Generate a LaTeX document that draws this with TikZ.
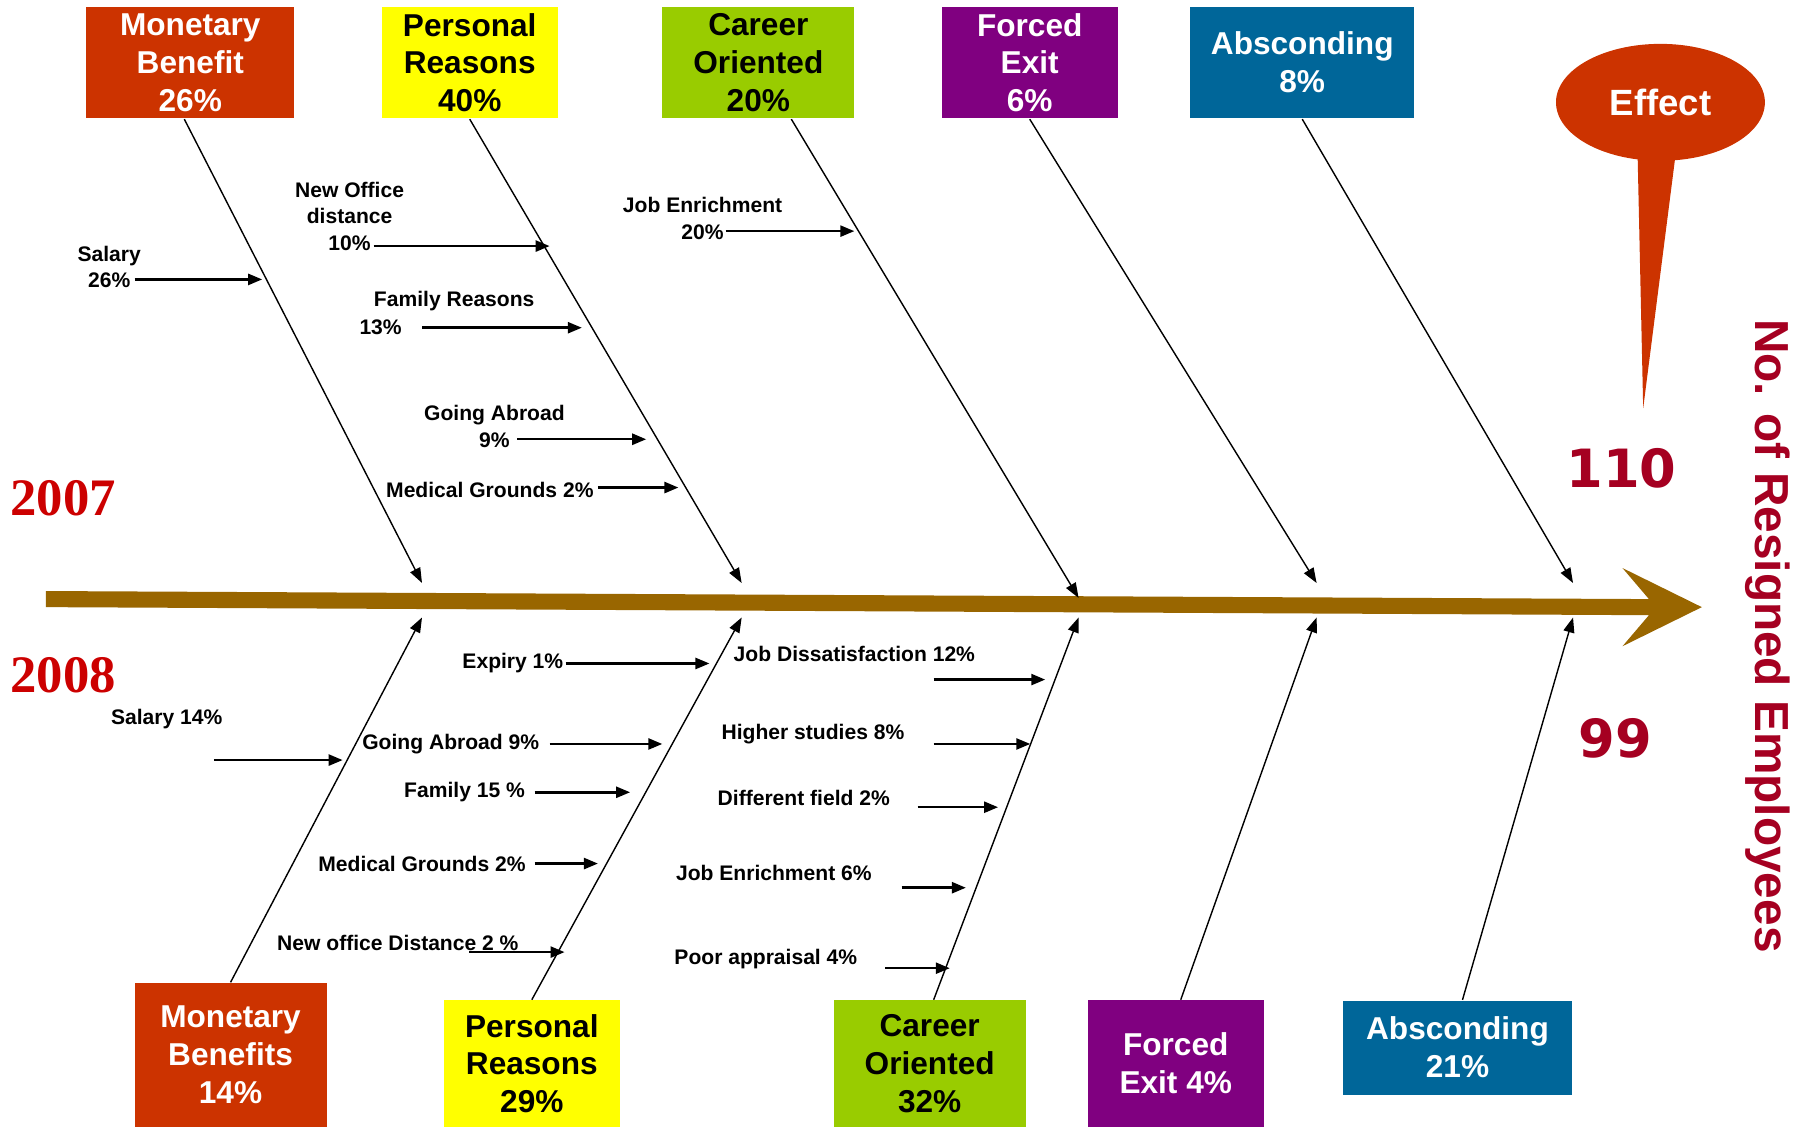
\documentclass[tikz,border=0pt]{standalone}
\usepackage{fontspec}
\setmainfont{Liberation Sans}
\newfontfamily\yearfont{Liberation Serif}
\newfontfamily\countfont{DejaVu Sans}
\usetikzlibrary{arrows.meta,shapes.geometric}

\definecolor{mbred}{HTML}{CC3300}
\definecolor{pryellow}{HTML}{FFFF00}
\definecolor{cogreen}{HTML}{99CC00}
\definecolor{fepurple}{HTML}{800080}
\definecolor{abblue}{HTML}{006699}
\definecolor{spinebrown}{HTML}{996600}
\definecolor{numred}{HTML}{A50021}
\definecolor{yearred}{HTML}{CC0000}

\tikzset{
  causebox/.style={inner sep=0pt, align=center, font=\fontsize{9}{10.8}\selectfont\bfseries},
  topbox/.style={causebox, minimum height=1.116cm},
  botbox/.style={causebox, minimum height=1.265cm},
  bone/.style={-{Triangle[length=1.5mm,width=1.1mm]}, line width=0.4pt},
  sub/.style={-{Triangle[length=1.4mm,width=1.1mm]}, line width=0.7pt},
  lbl/.style={inner sep=0pt, align=center, font=\fontsize{6}{7.5}\selectfont\bfseries},
  year/.style={text=yearred, font=\yearfont\fontsize{15}{15}\selectfont\bfseries},
  count/.style={text=numred, font=\countfont\fontsize{15}{17}\selectfont\bfseries},
}

\begin{document}
\begin{tikzpicture}[x=0.0115cm, y=-0.0115cm]
        \useasboundingbox (0,0) rectangle (1568,980);
        % spine
        \fill[spinebrown] (40,514) -- (1434,521) -- (1411,494) -- (1480,528) -- (1411,562) -- (1434,535) -- (40,528) -- cycle;
        % effect balloon
        \fill[mbred] (1424,128) -- (1429,355) -- (1458,128) -- cycle;
        \node[ellipse, fill=mbred, minimum width=2.09cm, minimum height=1.17cm, inner sep=0pt, text=white, font=\fontsize{10.4}{12}\selectfont\bfseries] (EF) at (1444,89) {Effect};
        % 2007 causes
        \node[topbox, fill=mbred, text=white, minimum width=2.08cm] (MB1) at (165.5,54.5) {Monetary\\Benefit\\26\%};
        \node[topbox, fill=pryellow, minimum width=1.76cm] (PR1) at (408.5,54.5) {Personal\\Reasons\\40\%};
        \node[topbox, fill=cogreen, minimum width=1.92cm] (CO1) at (659.5,54.5) {Career\\Oriented\\20\%};
        \node[topbox, fill=fepurple, text=white, minimum width=1.76cm] (FE1) at (895.5,54.5) {Forced\\Exit\\6\%};
        \node[topbox, fill=abblue, text=white, minimum width=2.24cm] (AB1) at (1132.5,54.5) {Absconding\\8\%};
        \coordinate (T1) at (367,507);
        \coordinate (T2) at (645,507);
        \coordinate (T3) at (938,520);
        \coordinate (T4) at (1145,507);
        \coordinate (T5) at (1368,507);
        \draw[bone] ([xshift=-0.06cm]MB1.south) -- (T1);
        \draw[bone] (PR1.south) -- (T2);
        \draw[bone] ([xshift=0.33cm]CO1.south) -- (T3);
        \draw[bone] (FE1.south) -- (T4);
        \draw[bone] (AB1.south) -- (T5);
        % 2008 causes
        \node[botbox, fill=mbred, text=white, minimum width=1.92cm, minimum height=1.44cm] (MB2) at (200.5,917.5) {Monetary\\Benefits\\14\%};
        \node[botbox, fill=pryellow, minimum width=1.76cm] (PR2) at (462.5,925) {Personal\\Reasons\\29\%};
        \node[botbox, fill=cogreen, minimum width=1.92cm] (CO2) at (808.5,925) {Career\\Oriented\\32\%};
        \node[botbox, fill=fepurple, text=white, minimum width=1.76cm] (FE2) at (1022.5,925) {Forced\\Exit 4\%};
        \node[botbox, fill=abblue, text=white, minimum width=2.29cm, minimum height=0.94cm] (AB2) at (1267.5,911) {Absconding\\21\%};
        \coordinate (B1) at (367,537);
        \coordinate (B2) at (645,537);
        \coordinate (B3) at (938,537);
        \coordinate (B4) at (1145,537);
        \coordinate (B5) at (1368,537);
        \draw[bone] (MB2.north) -- (B1);
        \draw[bone] (PR2.north) -- (B2);
        \draw[bone] ([xshift=0.04cm]CO2.north) -- (B3);
        \draw[bone] ([xshift=0.05cm]FE2.north) -- (B4);
        \draw[bone] ([xshift=0.05cm]AB2.north) -- (B5);
        % 2007 sub causes
        \node[lbl] (L1) at (95,232) {Salary\\26\%};
        \node[lbl] (L2) at (304,188) {New Office\\distance\\10\%};
        \node[lbl] (L3) at (395,262) {Family Reasons};
        \node[lbl] (L3b) at (331,285) {13\%};
        \node[lbl] (L4) at (430,371) {Going Abroad\\9\%};
        \node[lbl] (L5) at (426,426) {Medical Grounds 2\%};
        \node[lbl] (L6) at (611,190) {Job Enrichment\\20\%};
        \path (117,243) coordinate (s1) (228,243) coordinate (e1)
              (325,214) coordinate (s2) (478,214) coordinate (e2)
              (367,285) coordinate (s3) (506,285) coordinate (e3)
              (450,382) coordinate (s4) (562,382) coordinate (e4)
              (520,424) coordinate (s5) (590,424) coordinate (e5)
              (631,201) coordinate (s6) (743,201) coordinate (e6);
        \draw[sub] (s1) -- (e1);
        \draw[sub] (s2) -- (e2);
        \draw[sub] (s3) -- (e3);
        \draw[sub] (s4) -- (e4);
        \draw[sub] (s5) -- (e5);
        \draw[sub] (s6) -- (e6);
        % 2008 sub causes
        \node[lbl] (L7) at (446,577) {Expiry 1\%};
        \node[lbl] (L8) at (743,569) {Job Dissatisfaction 12\%};
        \node[lbl] (L9) at (145,625) {Salary 14\%};
        \node[lbl] (L10) at (392,647) {Going Abroad 9\%};
        \node[lbl] (L11) at (707,638) {Higher studies 8\%};
        \node[lbl] (L12) at (404,689) {Family 15 \%};
        \node[lbl] (L13) at (699,694) {Different field 2\%};
        \node[lbl] (L14) at (367,751) {Medical Grounds 2\%};
        \node[lbl] (L15) at (673,759) {Job Enrichment 6\%};
        \node[lbl] (L16) at (346,820) {New office Distance 2 \%};
        \node[lbl] (L17) at (666,834) {Poor appraisal 4\%};
        \path (492,577) coordinate (s7) (617,577) coordinate (e7)
              (812,591) coordinate (s8) (909,591) coordinate (e8)
              (186,661) coordinate (s9) (298,661) coordinate (e9)
              (478,647) coordinate (s10) (576,647) coordinate (e10)
              (812,647) coordinate (s11) (896,647) coordinate (e11)
              (465,689) coordinate (s12) (548,689) coordinate (e12)
              (798,702) coordinate (s13) (868,702) coordinate (e13)
              (465,751) coordinate (s14) (520,751) coordinate (e14)
              (784,772) coordinate (s15) (840,772) coordinate (e15)
              (408,828) coordinate (s16) (491,828) coordinate (e16)
              (770,842) coordinate (s17) (826,842) coordinate (e17);
        \draw[sub] (s7) -- (e7);
        \draw[sub] (s8) -- (e8);
        \draw[sub] (s9) -- (e9);
        \draw[sub] (s10) -- (e10);
        \draw[sub] (s11) -- (e11);
        \draw[sub] (s12) -- (e12);
        \draw[sub] (s13) -- (e13);
        \draw[sub] (s14) -- (e14);
        \draw[sub] (s15) -- (e15);
        \draw[sub] (s16) -- (e16);
        \draw[sub] (s17) -- (e17);
        % years and counts
        \node[year] (Y1) at (55,433) {2007};
        \node[year] (Y2) at (55,587) {2008};
        \node[count] (N1) at (1410,407) {110};
        \node[count] (N2) at (1405,642) {99};
        \node[rotate=-90, text=numred, font=\fontsize{13.6}{15}\selectfont\bfseries] (TT) at (1537,553) {No. of Resigned Employees};
      \end{tikzpicture}
\end{document}
